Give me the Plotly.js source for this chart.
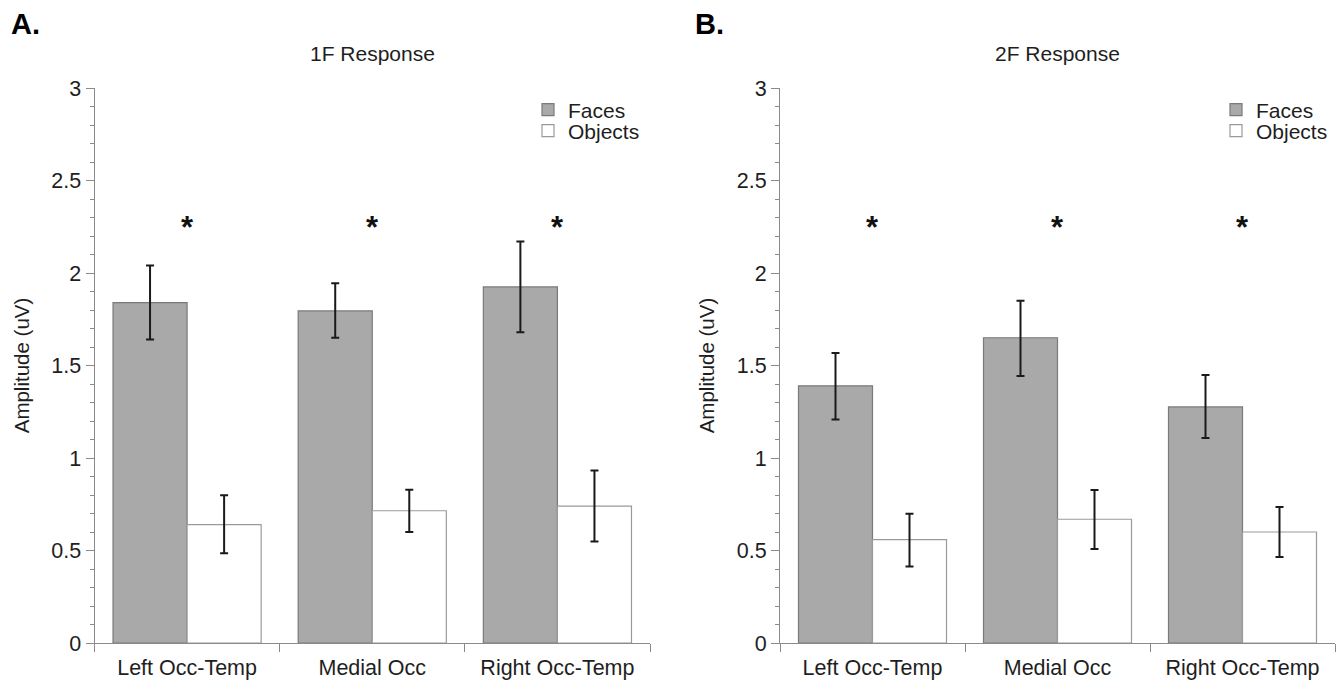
<!DOCTYPE html>
<html>
<head>
<meta charset="utf-8">
<script src="https://cdn.plot.ly/plotly-3.0.1.min.js"></script>
<style>html,body{margin:0;padding:0;background:#fff;}#chart{width:1342px;height:683px;}</style>
</head>
<body>
<div id="chart"></div>
<script>
// ---- data ----
const regions = ["Left Occ-Temp", "Medial Occ", "Right Occ-Temp"];
const seriesNames = ["Faces", "Objects"];

// Panel A: 1F Response
const facesA = [1.84, 1.795, 1.925];
const facesA_errPlus = [0.20, 0.15, 0.245];
const facesA_errMinus = [0.20, 0.145, 0.245];
const objectsA = [0.64, 0.715, 0.74];
const objectsA_errPlus = [0.158, 0.114, 0.193];
const objectsA_errMinus = [0.155, 0.115, 0.192];

// Panel B: 2F Response
const facesB = [1.39, 1.65, 1.276];
const facesB_errPlus = [0.177, 0.20, 0.173];
const facesB_errMinus = [0.182, 0.207, 0.168];
const objectsB = [0.559, 0.669, 0.60];
const objectsB_errPlus = [0.14, 0.158, 0.135];
const objectsB_errMinus = [0.145, 0.161, 0.135];

const sigMarkA = ["*", "*", "*"];
const sigMarkB = ["*", "*", "*"];
const sigLevel = 2.245;

const panelTitles = ["1F Response", "2F Response"];
const panelLetters = ["A.", "B."];
const yTitle = "Amplitude (uV)";

// ---- styling ----
const W = 1342, H = 683;
const FONT = "Liberation Sans, Arial, Helvetica, sans-serif";
const faceFill = "#a9a9a9", faceLine = "#7a7a7a";
const objFill = "#ffffff", objLine = "#9a9a9a";
const axisCol = "#8a8a8a";
const txtCol = "#1e1e1e";
const px = v => v / W;
const py = v => (H - v) / H;

function barTrace(name, y, ep, em, fill, line, xa, ya, legend) {
  return {
    type: "bar", name: name, x: regions, y: y,
    xaxis: xa, yaxis: ya, legend: legend, showlegend: true,
    marker: {color: fill, line: {color: line, width: 1.2}},
    error_y: {type: "data", symmetric: false, array: ep, arrayminus: em,
              color: "#1a1a1a", thickness: 2, width: 4},
    hoverinfo: "y+name"
  };
}

const data = [
  barTrace(seriesNames[0], facesA, facesA_errPlus, facesA_errMinus, faceFill, faceLine, "x", "y", "legend"),
  barTrace(seriesNames[1], objectsA, objectsA_errPlus, objectsA_errMinus, objFill, objLine, "x", "y", "legend3"),
  barTrace(seriesNames[0], facesB, facesB_errPlus, facesB_errMinus, faceFill, faceLine, "x2", "y2", "legend2"),
  barTrace(seriesNames[1], objectsB, objectsB_errPlus, objectsB_errMinus, objFill, objLine, "x2", "y2", "legend4")
];

const domA = [px(94.5), px(650)];
const domB = [px(780), px(1335)];
const domY = [(H - 643) / H, (H - 88) / H];

function xAxis(dom, anchor) {
  return {
    domain: dom, anchor: anchor, type: "category", range: [-0.5, 2.5],
    showline: true, linecolor: axisCol, linewidth: 1,
    ticks: "outside", tickson: "boundaries", ticklen: 8, tickcolor: axisCol,
    ticklabelstandoff: 5,
    tickfont: {family: FONT, size: 21.5, color: txtCol},
    showgrid: false, zeroline: false, fixedrange: true
  };
}
function yAxis(anchor) {
  return {
    domain: domY, anchor: anchor, range: [0, 3],
    showline: true, linecolor: axisCol, linewidth: 1,
    ticks: "outside", ticklen: 8, tickcolor: axisCol, dtick: 0.5, tick0: 0,
    minor: {ticks: "outside", dtick: 0.1, tick0: 0, ticklen: 4, tickcolor: axisCol},
    tickfont: {family: FONT, size: 21.5, color: txtCol},
    title: {text: yTitle, font: {family: FONT, size: 20.5, color: txtCol}, standoff: 16},
    showgrid: false, zeroline: false, fixedrange: true
  };
}
function yOverlay(over, anchor) {
  return {
    domain: domY, overlaying: over, anchor: anchor, side: "left", range: [0, 3],
    showline: false, ticks: "", dtick: 0.5, tick0: 0,
    minor: {ticks: "inside", dtick: 0.1, tick0: 0, ticklen: 4, tickcolor: axisCol},
    showticklabels: false, showgrid: false, zeroline: false, fixedrange: true
  };
}

const annotations = [];
[["x", "y", sigMarkA], ["x2", "y2", sigMarkB]].forEach(([xa, ya, marks]) => {
  regions.forEach((r, i) => {
    annotations.push({xref: xa, yref: ya, x: r, y: sigLevel, text: "<b>" + marks[i] + "</b>",
      showarrow: false, yanchor: "middle", xanchor: "center",
      font: {family: FONT, size: 31, color: "#111"}});
  });
});
annotations.push({xref: "paper", yref: "paper", x: (domA[0] + domA[1]) / 2, y: py(53), text: panelTitles[0],
  showarrow: false, xanchor: "center", yanchor: "middle", font: {family: FONT, size: 21, color: txtCol}});
annotations.push({xref: "paper", yref: "paper", x: (domB[0] + domB[1]) / 2, y: py(53), text: panelTitles[1],
  showarrow: false, xanchor: "center", yanchor: "middle", font: {family: FONT, size: 21, color: txtCol}});
annotations.push({xref: "paper", yref: "paper", x: px(9), y: py(24), text: "<b>" + panelLetters[0] + "</b>",
  showarrow: false, xanchor: "left", yanchor: "middle", font: {family: FONT, size: 29, color: "#000"}});
annotations.push({xref: "paper", yref: "paper", x: px(693), y: py(24), text: "<b>" + panelLetters[1] + "</b>",
  showarrow: false, xanchor: "left", yanchor: "middle", font: {family: FONT, size: 29, color: "#000"}});

function legendCfg(xPix, yPix) {
  return {x: px(xPix), y: py(yPix), xanchor: "left", yanchor: "middle",
    bgcolor: "rgba(0,0,0,0)", borderwidth: 0, tracegroupgap: 0,
    font: {family: FONT, size: 21, color: txtCol}, itemwidth: 30};
}

const layout = {
  width: W, height: H, margin: {l: 0, r: 0, t: 0, b: 0},
  paper_bgcolor: "#fff", plot_bgcolor: "rgba(0,0,0,0)",
  barmode: "group", bargap: 0.2, bargroupgap: 0,
  font: {family: FONT, color: txtCol},
  xaxis: xAxis(domA, "y"),
  yaxis: yAxis("x"),
  xaxis2: xAxis(domB, "y2"),
  yaxis2: yAxis("x2"),
  yaxis3: yOverlay("y", "x"),
  yaxis4: yOverlay("y2", "x2"),
  legend: legendCfg(528, 110),
  legend3: legendCfg(528, 131),
  legend2: legendCfg(1216, 110),
  legend4: legendCfg(1216, 131),
  annotations: annotations
};

Plotly.newPlot("chart", data, layout, {displayModeBar: false, staticPlot: true});
</script>
</body>
</html>
